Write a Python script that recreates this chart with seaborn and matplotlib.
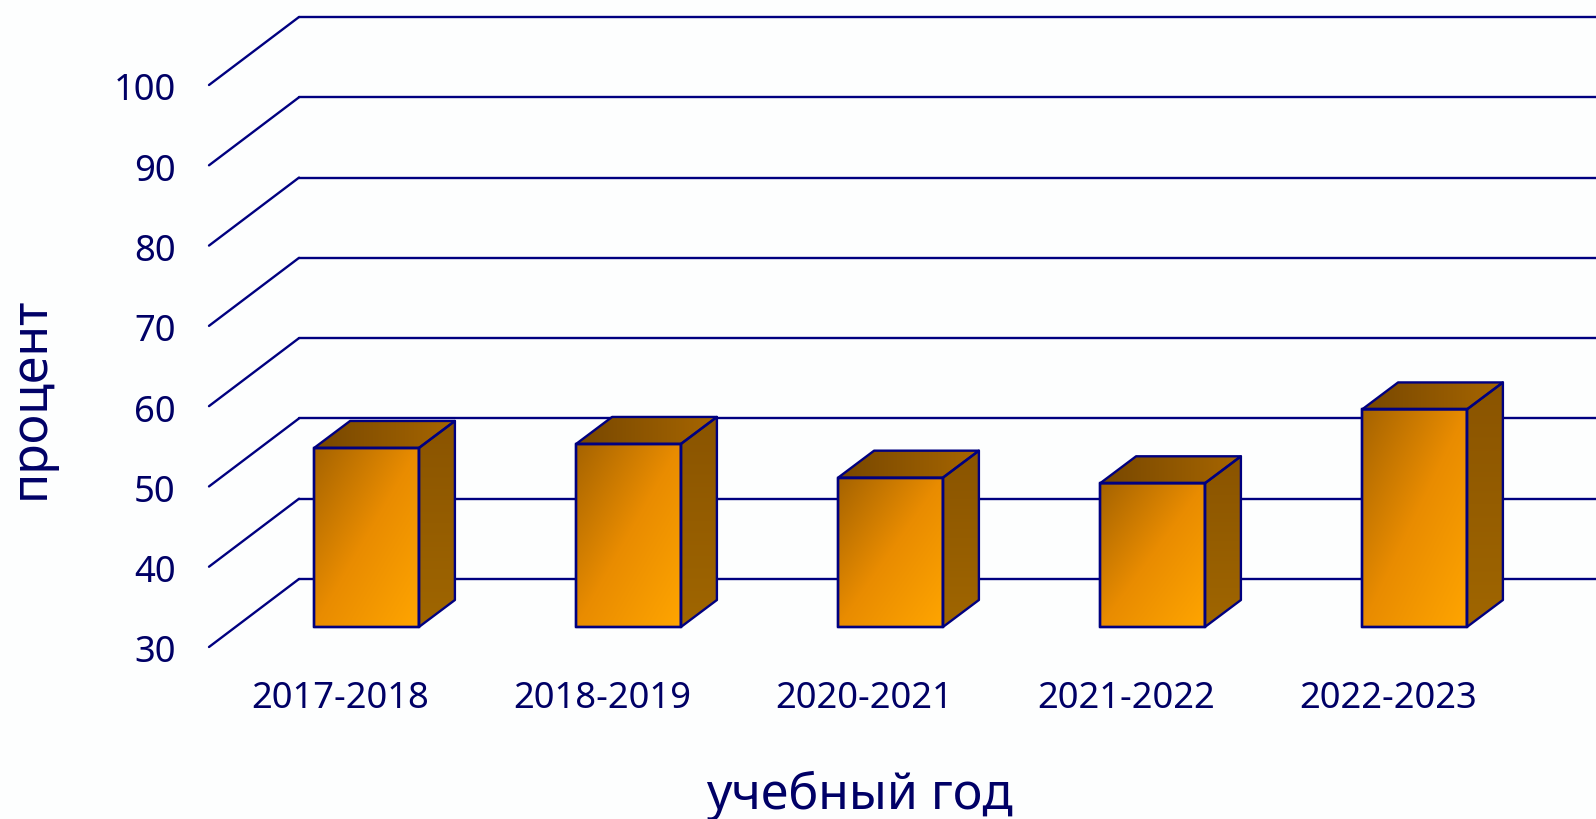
import numpy as np
import seaborn as sns
import matplotlib.pyplot as plt
from matplotlib.colors import LinearSegmentedColormap
from matplotlib.patches import Polygon
from matplotlib.transforms import Affine2D, IdentityTransform

years = ["2017-2018", "2018-2019", "2020-2021", "2021-2022", "2022-2023"]
percent = [52.3, 52.8, 48.6, 47.9, 57.1]
y_ticks = [30, 40, 50, 60, 70, 80, 90, 100]

LINE = "#000080"
TEXT = "#000066"
BG = "#FDFEFE"
FONT = 26.2
LW = 1.7

W, H = 1596, 819
# floor depth in pixels: wall back, bar plane, bar thickness
BACK = (90, 68)
BAR_SHIFT = (26.5, 20)
BAR_DEPTH = (36, 27)

sns.set_theme(style="white")
plt.rcParams["font.family"] = ["Noto Sans", "DejaVu Sans"]

fig = plt.figure(figsize=(W / 100, H / 100), dpi=100, facecolor=BG)


def place(left, top, bottom, width):
    return [left / W, 1 - bottom / H, width / W, (bottom - top) / H]


# front plane carries the axis text, bars sit a bit further back
wall = fig.add_axes(place(209, 85, 647, 1310))
bars = fig.add_axes(place(209 + BAR_SHIFT[0], 85 - BAR_SHIFT[1], 647 - BAR_SHIFT[1], 1310))

wall.set_xlim(-0.5, 4.5)
wall.set_ylim(y_ticks[0], y_ticks[-1])
wall.set_xticks(range(len(years)), years)
wall.set_yticks(y_ticks)
wall.tick_params(axis="x", length=0, pad=24.5, labelsize=FONT, labelcolor=TEXT)
wall.tick_params(axis="y", length=0, pad=24, labelsize=FONT, labelcolor=TEXT)
wall.patch.set_visible(False)
sns.despine(ax=wall, left=True, bottom=True)

for lab in wall.get_yticklabels():
    lab.set_transform(lab.get_transform() + Affine2D().translate(0, -2))

back = wall.transData + Affine2D().translate(*BACK)
for tick in y_ticks:
    # side wall line, then the long line on the back wall
    p0 = wall.transData.transform((-0.5, tick))
    wall.plot([p0[0], p0[0] + BACK[0]], [p0[1], p0[1] + BACK[1]], color=LINE, lw=LW,
              transform=IdentityTransform(), clip_on=False, solid_capstyle="round")
    wall.plot([-0.5, 4.5], [tick, tick], color=LINE, lw=LW, transform=back, clip_on=False)

wall.text(31, H - 398, "процент", rotation=90, ha="center", va="center", fontsize=36,
          color=TEXT, transform=IdentityTransform())
wall.text(859, H - 796, "учебный год", ha="center", va="center", fontsize=36,
          color=TEXT, transform=IdentityTransform())

base = y_ticks[0]
sns.barplot(x=years, y=np.array(percent) - base, bottom=base, width=0.4, color=LINE,
            fill=False, linewidth=LW, ax=bars)
bars.set_xlim(-0.5, 4.5)
bars.set_ylim(y_ticks[0], y_ticks[-1])
bars.axis("off")

front_cmap = LinearSegmentedColormap.from_list("front", ["#A56300", "#E98C00", "#FFA500"])
side_cmap = LinearSegmentedColormap.from_list("side", ["#8A5400", "#A06600"])
top_cmap = LinearSegmentedColormap.from_list("top", ["#774700", "#A76600"])


def shade(corners, cmap, mode):
    corners = np.array(corners)
    x0, y0 = corners.min(axis=0)
    x1, y1 = corners.max(axis=0)
    u, v = np.meshgrid(np.linspace(0, 1, 200), np.linspace(0, 1, 200))
    if mode == "diag":
        grad = (u + v) / 2
    elif mode == "down":
        grad = v
    else:
        grad = u
    img = bars.imshow(grad, cmap=cmap, vmin=0, vmax=1, origin="upper", aspect="auto", zorder=1,
                      extent=(x0, x1, y0, y1), transform=IdentityTransform())
    img.set_clip_box(None)
    img.set_clip_path(Polygon(corners, transform=IdentityTransform()))
    bars.add_patch(Polygon(corners, closed=True, fill=False, edgecolor=LINE, lw=LW, zorder=2,
                           transform=IdentityTransform(), clip_on=False, joinstyle="round"))


for bar in list(bars.patches):
    x0, x1 = bar.get_x(), bar.get_x() + bar.get_width()
    y0, y1 = bar.get_y(), bar.get_y() + bar.get_height()
    (l, b), (r, t) = bars.transData.transform([(x0, y0), (x1, y1)])
    dx, dy = BAR_DEPTH
    shade([(l, b), (r, b), (r, t), (l, t)], front_cmap, "diag")
    shade([(r, b), (r + dx, b + dy), (r + dx, t + dy), (r, t)], side_cmap, "down")
    shade([(l, t), (r, t), (r + dx, t + dy), (l + dx, t + dy)], top_cmap, "right")
    bar.set_zorder(3)
    bar.set_clip_on(False)

bars.set_xlim(-0.5, 4.5)
bars.set_ylim(y_ticks[0], y_ticks[-1])

fig.savefig("out.png", dpi=100, facecolor=BG)
